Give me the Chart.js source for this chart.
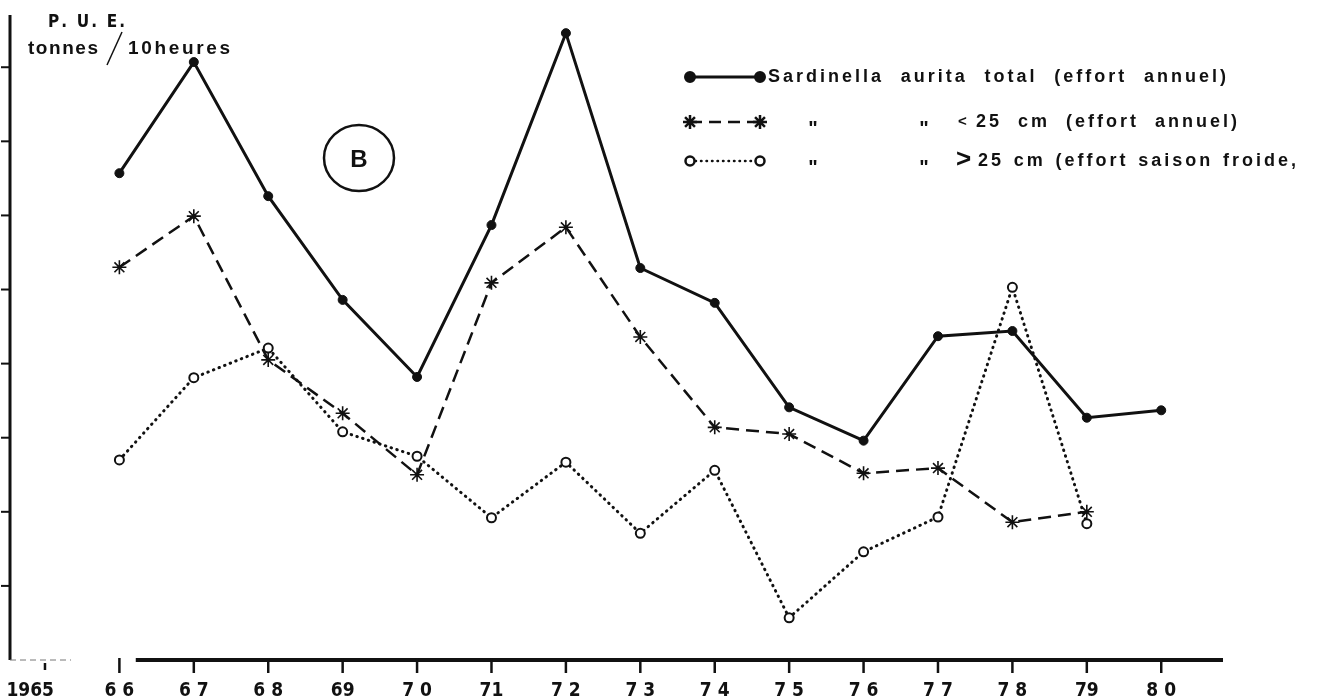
<!DOCTYPE html>
<html>
<head>
<meta charset="utf-8">
<script src="https://cdn.jsdelivr.net/npm/chart.js@4.4.1/dist/chart.umd.min.js"></script>
<style>
  html, body { margin: 0; padding: 0; background: #fff; }
  canvas { display: block; }
</style>
</head>
<body>
<canvas id="chart-pue" width="1331" height="697"></canvas>
<script>
(function () {
  // values (tick spacing = 1 unit, no labels on the y axis)
  var years = [1966, 1967, 1968, 1969, 1970, 1971, 1972, 1973, 1974, 1975, 1976, 1977, 1978, 1979, 1980];
  var totalAnnual = [6.57, 8.07, 6.26, 4.86, 3.82, 5.87, 8.46, 5.29, 4.82, 3.41, 2.96, 4.37, 4.44, 3.27, 3.37];
  var under25Annual = [5.30, 5.99, 4.05, 3.33, 2.50, 5.09, 5.84, 4.36, 3.14, 3.05, 2.52, 2.59, 1.86, 2.00];
  var over25Cold = [2.70, 3.81, 4.21, 3.08, 2.75, 1.92, 2.67, 1.71, 2.56, 0.57, 1.46, 1.93, 5.03, 1.84];

  var tickYears = [1965, 1966, 1967, 1968, 1969, 1970, 1971, 1972, 1973, 1974, 1975, 1976, 1977, 1978, 1979, 1980];
  var tickLabels = ["1965", "6 6", "6 7", "6 8", "69", "7 0", "71", "7 2", "7 3", "7 4", "7 5", "7 6", "7 7", "7 8", "79", "8 0"];
  var yTicks = [1, 2, 3, 4, 5, 6, 7, 8];

  var legendTexts = [
    "Sardinella aurita total (effort annuel)",
    "25 cm (effort annuel)",
    "25 cm (effort saison froide,"
  ];

  var ink = "#111";
  var font = "'Liberation Sans', Arial, sans-serif";
  var narrow = "'Liberation Sans Narrow', 'DejaVu Sans Condensed', 'Liberation Sans', sans-serif";

  function pts(vals) {
    return vals.map(function (v, i) { return { x: years[i], y: v }; });
  }

  // text spread between two x positions, char by char
  function spreadText(ctx, str, x0, x1, y) {
    var w = ctx.measureText(str).width;
    var gap = str.length > 1 ? (x1 - x0 - w) / (str.length - 1) : 0;
    var x = x0;
    ctx.textAlign = "left";
    for (var i = 0; i < str.length; i++) {
      ctx.fillText(str[i], x, y);
      x += ctx.measureText(str[i]).width + gap;
    }
  }

  // words spread between two x positions, letters kept with fixed tracking
  function spreadWords(ctx, str, x0, x1, y, track) {
    var words = str.split(" ");
    var widths = words.map(function (w) {
      return ctx.measureText(w).width + track * (w.length - 1);
    });
    var total = widths.reduce(function (a, b) { return a + b; }, 0);
    var gap = words.length > 1 ? (x1 - x0 - total) / (words.length - 1) : 0;
    var x = x0;
    ctx.textAlign = "left";
    words.forEach(function (w, k) {
      var cx = x;
      for (var i = 0; i < w.length; i++) {
        ctx.fillText(w[i], cx, y);
        cx += ctx.measureText(w[i]).width + track;
      }
      x += widths[k] + gap;
    });
  }

  function marker(ctx, style, x, y) {
    Chart.helpers.drawPoint(ctx, style, x, y);
  }

  var dotStyle = { pointStyle: "circle", radius: 4.5, rotation: 0, borderWidth: 1 };
  var starStyle = { pointStyle: "star", radius: 7, rotation: 0, borderWidth: 1.6 };
  var ringStyle = { pointStyle: "circle", radius: 4.5, rotation: 0, borderWidth: 2 };

  var decor = {
    id: "decor",
    afterDraw: function (chart) {
      var ctx = chart.ctx;
      var xs = chart.scales.x, ys = chart.scales.y;
      var ax = xs.left, y0 = ys.getPixelForValue(0);
      ctx.save();
      ctx.strokeStyle = ink;
      ctx.fillStyle = ink;
      ctx.lineCap = "butt";

      // y axis
      ctx.lineWidth = 3;
      ctx.beginPath();
      ctx.moveTo(ax, ys.top);
      ctx.lineTo(ax, y0);
      ctx.stroke();
      ctx.lineWidth = 2;
      yTicks.forEach(function (v) {
        var py = ys.getPixelForValue(v);
        ctx.beginPath();
        ctx.moveTo(ax - 9, py);
        ctx.lineTo(ax, py);
        ctx.stroke();
      });

      // x axis: faint dashed start, then heavy rule
      ctx.lineWidth = 1;
      ctx.strokeStyle = "#777";
      ctx.setLineDash([6, 4]);
      ctx.beginPath();
      ctx.moveTo(ax, y0);
      ctx.lineTo(xs.getPixelForValue(1965.35), y0);
      ctx.stroke();
      ctx.setLineDash([]);
      ctx.strokeStyle = ink;
      ctx.lineWidth = 4;
      ctx.beginPath();
      ctx.moveTo(xs.getPixelForValue(1966.22), y0);
      ctx.lineTo(xs.right, y0);
      ctx.stroke();

      ctx.lineWidth = 2.5;
      tickYears.forEach(function (yr, i) {
        var px = xs.getPixelForValue(yr);
        ctx.beginPath();
        ctx.moveTo(px, i === 0 ? y0 + 3 : y0 - 2);
        ctx.lineTo(px, y0 + (i === 0 ? 10 : 13));
        ctx.stroke();
      });

      ctx.font = "bold 19px " + narrow;
      ctx.textBaseline = "alphabetic";
      tickYears.forEach(function (yr, i) {
        var px = xs.getPixelForValue(yr);
        if (i === 0) {
          ctx.textAlign = "right";
          ctx.fillText(tickLabels[i], px + 9, 696);
        } else {
          ctx.textAlign = "center";
          ctx.fillText(tickLabels[i], px, 696);
        }
      });

      // y axis title
      ctx.font = "bold 17px " + narrow;
      spreadText(ctx, "P. U. E.", 48, 122, 27);
      ctx.font = "bold 19px " + font;
      spreadText(ctx, "tonnes", 28, 98, 54);
      spreadText(ctx, "10heures", 128, 230, 54);
      ctx.lineWidth = 1.5;
      ctx.beginPath();
      ctx.moveTo(122, 32);
      ctx.lineTo(107, 65);
      ctx.stroke();

      // circled B
      ctx.lineWidth = 2.5;
      ctx.beginPath();
      ctx.ellipse(359, 158, 35, 33, 0, 0, Math.PI * 2);
      ctx.stroke();
      ctx.font = "900 24px " + font;
      ctx.textAlign = "center";
      ctx.textBaseline = "middle";
      ctx.fillText("B", 359, 160);

      // legend
      var lx0 = 690, lx1 = 760;
      var rows = [77, 122, 161];

      ctx.lineWidth = 3;
      ctx.beginPath();
      ctx.moveTo(lx0, rows[0]);
      ctx.lineTo(lx1, rows[0]);
      ctx.stroke();
      marker(ctx, dotStyle, lx0, rows[0]);
      marker(ctx, dotStyle, lx1, rows[0]);

      ctx.lineWidth = 2.5;
      ctx.setLineDash([12, 7]);
      ctx.beginPath();
      ctx.moveTo(lx0, rows[1]);
      ctx.lineTo(lx1, rows[1]);
      ctx.stroke();
      ctx.setLineDash([]);
      marker(ctx, starStyle, lx0, rows[1]);
      marker(ctx, starStyle, lx1, rows[1]);

      ctx.lineWidth = 2.5;
      ctx.lineCap = "round";
      ctx.setLineDash([0.5, 5]);
      ctx.beginPath();
      ctx.moveTo(lx0, rows[2]);
      ctx.lineTo(lx1, rows[2]);
      ctx.stroke();
      ctx.setLineDash([]);
      ctx.lineCap = "butt";
      ctx.fillStyle = "#fff";
      marker(ctx, ringStyle, lx0, rows[2]);
      marker(ctx, ringStyle, lx1, rows[2]);
      ctx.fillStyle = ink;

      ctx.textBaseline = "middle";
      ctx.font = "bold 18px " + font;
      spreadWords(ctx, legendTexts[0], 768, 1226, rows[0], 3);
      // ditto marks
      ctx.font = "bold 20px " + font;
      [rows[1], rows[2]].forEach(function (ry) {
        ctx.textAlign = "center";
        ctx.fillText("\"", 813, ry + 7);
        ctx.fillText("\"", 924, ry + 7);
      });
      ctx.font = "bold 15px " + font;
      ctx.textAlign = "left";
      ctx.fillText("<", 958, rows[1]);
      ctx.font = "bold 26px " + font;
      ctx.fillText(">", 956, rows[2] - 1);
      ctx.font = "bold 18px " + font;
      spreadWords(ctx, legendTexts[1], 976, 1237, rows[1], 3);
      spreadWords(ctx, legendTexts[2], 978, 1296, rows[2], 3);

      ctx.restore();
    }
  };

  new Chart(document.getElementById("chart-pue"), {
    type: "line",
    data: {
      datasets: [
        {
          label: "total",
          data: pts(totalAnnual),
          borderColor: ink,
          backgroundColor: ink,
          borderWidth: 3,
          pointStyle: "circle",
          pointRadius: 4.5,
          pointBorderWidth: 1,
          tension: 0,
          clip: false
        },
        {
          label: "< 25 cm",
          data: pts(under25Annual),
          borderColor: ink,
          backgroundColor: ink,
          borderWidth: 2.5,
          borderDash: [13, 7],
          pointStyle: "star",
          pointRadius: 7,
          pointBorderWidth: 1.6,
          tension: 0,
          clip: false
        },
        {
          label: "> 25 cm",
          data: pts(over25Cold),
          borderColor: ink,
          backgroundColor: "#fff",
          borderWidth: 3,
          borderDash: [0.5, 5.5],
          borderCapStyle: "round",
          pointStyle: "circle",
          pointRadius: 4.5,
          pointBorderWidth: 2,
          pointBackgroundColor: "#fff",
          tension: 0,
          clip: false
        }
      ]
    },
    options: {
      responsive: false,
      animation: false,
      devicePixelRatio: 1,
      layout: { padding: { left: 10, right: 108, top: 15, bottom: 37 } },
      plugins: { legend: { display: false }, tooltip: { enabled: false } },
      scales: {
        x: { type: "linear", min: 1964.53, max: 1980.83, display: false },
        y: { type: "linear", min: 0, max: 8.705, display: false }
      }
    },
    plugins: [decor]
  });
})();
</script>
</body>
</html>
